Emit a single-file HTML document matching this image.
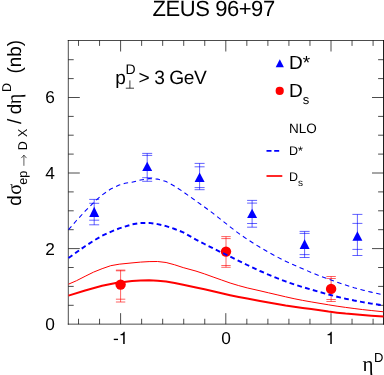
<!DOCTYPE html>
<html><head><meta charset="utf-8"><title>ZEUS 96+97</title>
<style>
html,body{margin:0;padding:0;background:#fff;overflow:hidden;}
svg{display:block;will-change:transform;}
text{font-family:"Liberation Sans",sans-serif;fill:#000;text-rendering:geometricPrecision;}
.sy{font-family:"Liberation Serif",serif;}
</style></head><body>
<svg width="384" height="375" viewBox="0 0 384 375">
<rect x="0" y="0" width="384" height="375" fill="#fff"/>
<g stroke="#000" stroke-opacity="0.70" stroke-width="1" fill="none">
<path d="M68.30 40.00 V324.65"/><path d="M383.50 40.00 V324.65" stroke-opacity="0.88"/><path d="M67.80 40.50 H384.00"/><path d="M67.80 324.15 H384.00"/>
<path d="M78.52 324.15 v-5.40"/><path d="M78.52 40.50 v5.40"/>
<path d="M99.56 324.15 v-5.40"/><path d="M99.56 40.50 v5.40"/>
<path d="M120.60 324.15 v-11.00"/><path d="M120.60 40.50 v11.00"/>
<path d="M141.64 324.15 v-5.40"/><path d="M141.64 40.50 v5.40"/>
<path d="M162.68 324.15 v-5.40"/><path d="M162.68 40.50 v5.40"/>
<path d="M183.72 324.15 v-5.40"/><path d="M183.72 40.50 v5.40"/>
<path d="M204.76 324.15 v-5.40"/><path d="M204.76 40.50 v5.40"/>
<path d="M225.80 324.15 v-11.00"/><path d="M225.80 40.50 v11.00"/>
<path d="M246.84 324.15 v-5.40"/><path d="M246.84 40.50 v5.40"/>
<path d="M267.88 324.15 v-5.40"/><path d="M267.88 40.50 v5.40"/>
<path d="M288.92 324.15 v-5.40"/><path d="M288.92 40.50 v5.40"/>
<path d="M309.96 324.15 v-5.40"/><path d="M309.96 40.50 v5.40"/>
<path d="M331.00 324.15 v-11.00"/><path d="M331.00 40.50 v11.00"/>
<path d="M352.04 324.15 v-5.40"/><path d="M352.04 40.50 v5.40"/>
<path d="M373.08 324.15 v-5.40"/><path d="M373.08 40.50 v5.40"/>
<path d="M68.3 305.3 h5.4"/><path d="M383.5 305.3 h-5.4"/>
<path d="M68.3 286.4 h5.4"/><path d="M383.5 286.4 h-5.4"/>
<path d="M68.3 267.5 h5.4"/><path d="M383.5 267.5 h-5.4"/>
<path d="M68.3 248.6 h11.5"/><path d="M383.5 248.6 h-11.5"/>
<path d="M68.3 229.7 h5.4"/><path d="M383.5 229.7 h-5.4"/>
<path d="M68.3 210.8 h5.4"/><path d="M383.5 210.8 h-5.4"/>
<path d="M68.3 191.9 h5.4"/><path d="M383.5 191.9 h-5.4"/>
<path d="M68.3 173.0 h11.5"/><path d="M383.5 173.0 h-11.5"/>
<path d="M68.3 154.1 h5.4"/><path d="M383.5 154.1 h-5.4"/>
<path d="M68.3 135.2 h5.4"/><path d="M383.5 135.2 h-5.4"/>
<path d="M68.3 116.4 h5.4"/><path d="M383.5 116.4 h-5.4"/>
<path d="M68.3 97.5 h11.5"/><path d="M383.5 97.5 h-11.5"/>
<path d="M68.3 78.6 h5.4"/><path d="M383.5 78.6 h-5.4"/>
<path d="M68.3 59.7 h5.4"/><path d="M383.5 59.7 h-5.4"/>
</g>
<g stroke="#0000ff" stroke-width="0.62" fill="none">
<path d="M94.2 199.4 V224.8 M89.2 199.4 h10.0 M89.2 203.3 h10.0 M89.2 220.2 h10.0 M89.2 224.8 h10.0"/>
<path d="M147.2 153.4 V181.3 M142.2 153.4 h10.0 M142.2 155.4 h10.0 M142.2 177.7 h10.0 M142.2 181.3 h10.0"/>
<path d="M199.6 163.4 V189.7 M194.6 163.4 h10.0 M194.6 166.8 h10.0 M194.6 187.6 h10.0 M194.6 189.7 h10.0"/>
<path d="M252.1 200.4 V227.2 M247.1 200.4 h10.0 M247.1 203.1 h10.0 M247.1 223.5 h10.0 M247.1 227.2 h10.0"/>
<path d="M304.6 231.4 V257.5 M299.6 231.4 h10.0 M299.6 233.4 h10.0 M299.6 254.6 h10.0 M299.6 257.5 h10.0"/>
<path d="M357.4 214.4 V255.5 M352.4 214.4 h10.0 M352.4 223.4 h10.0 M352.4 249.4 h10.0 M352.4 255.5 h10.0"/>
</g>
<g fill="#0000ff">
<polygon points="94.2,206.8 89.2,217.0 99.2,217.0"/>
<polygon points="147.2,161.7 142.2,171.1 152.2,171.1"/>
<polygon points="199.6,172.4 194.6,181.9 204.6,181.9"/>
<polygon points="252.1,208.8 247.1,217.9 257.1,217.9"/>
<polygon points="304.6,239.2 299.6,249.1 309.6,249.1"/>
<polygon points="357.4,231.2 352.4,240.8 362.4,240.8"/>
</g>
<g stroke="#ff0000" stroke-width="0.62" fill="none">
<path d="M120.6 270.1 V302.0 M115.9 270.1 h9.4 M115.9 270.8 h9.4 M115.9 299.2 h9.4 M115.9 302.0 h9.4"/>
<path d="M226.0 236.6 V267.3 M221.3 236.6 h9.4 M221.3 238.6 h9.4 M221.3 265.5 h9.4 M221.3 267.3 h9.4"/>
<path d="M331.1 276.5 V301.5 M326.4 276.5 h9.4 M326.4 278.5 h9.4 M326.4 299.5 h9.4 M326.4 301.5 h9.4"/>
</g>
<g fill="#ff0000">
<circle cx="120.6" cy="284.6" r="5.2"/>
<circle cx="226.0" cy="251.6" r="5.2"/>
<circle cx="331.1" cy="288.9" r="5.2"/>
</g>
<g fill="none" stroke-linejoin="round">
<polyline points="68.5,284.2 76.5,280.7 85.1,276.3 93.6,272.1 102.1,268.7 110.7,265.7 119.2,264.2 132.0,262.9 140.5,262.1 149.1,261.6 157.6,261.5 166.1,262.5 174.7,264.8 183.2,267.6 196.0,271.1 204.5,273.9 213.1,277.0 221.6,280.0 230.1,283.0 238.7,285.6 247.2,287.9 260.0,290.8 268.5,292.8 277.1,294.8 285.6,296.8 294.1,298.7 302.7,300.4 311.2,301.9 320.0,303.4 328.5,304.8 337.1,306.2 345.6,307.4 354.1,308.5 362.7,309.6 371.2,310.5 383.5,311.8" stroke="#ff0000" stroke-width="1"/>
<polyline points="68.5,295.6 85.1,290.5 102.1,285.8 115.8,282.9 132.0,281.0 140.5,280.5 149.1,280.2 157.6,280.7 166.1,281.6 174.7,283.0 183.2,284.7 196.0,287.4 204.5,289.3 213.1,291.3 221.6,293.3 230.1,295.2 238.7,297.0 247.2,298.6 260.0,300.9 268.5,302.4 277.1,303.9 285.6,305.4 294.1,306.7 302.7,307.9 311.2,309.0 320.0,310.3 328.5,311.6 337.1,312.7 345.6,313.6 354.1,314.3 362.7,315.0 371.2,315.7 383.5,316.5" stroke="#ff0000" stroke-width="2.0"/>
<polyline points="68.5,229.7 76.5,220.5 85.1,211.2 96.2,200.1 102.1,195.0 110.7,189.0 119.2,185.1 125.0,183.3 132.0,182.2 140.5,180.0 149.1,178.6 157.6,179.1 166.1,181.6 174.7,186.2 183.2,191.8 196.0,201.0 204.5,207.0 213.1,213.4 221.6,220.1 230.1,226.8 238.7,233.4 247.2,239.3 260.0,247.3 268.5,252.3 277.1,256.9 285.6,261.2 294.1,265.1 302.7,268.8 311.2,272.4 320.0,276.0 328.5,279.2 337.1,282.2 345.6,285.0 354.1,287.7 362.7,290.1 371.2,292.1 383.5,294.9" stroke="#0000ff" stroke-width="1.08" stroke-dasharray="4.5,3.6"/>
<polyline points="68.5,258.0 76.5,252.3 85.1,246.2 93.6,240.7 102.1,235.8 110.7,231.8 119.2,228.4 132.0,224.4 140.5,223.0 149.1,222.9 157.6,224.1 166.1,226.1 174.7,229.0 183.2,232.3 196.0,239.6 204.5,244.0 213.1,248.3 221.6,252.5 230.1,256.6 238.7,260.8 247.2,265.0 260.0,271.0 268.5,274.7 277.1,278.2 285.6,281.4 294.1,284.4 302.7,287.1 311.2,289.6 320.0,292.1 328.5,294.5 337.1,296.7 345.6,298.7 354.1,300.5 362.7,302.1 371.2,303.6 383.5,305.5" stroke="#0000ff" stroke-width="1.95" stroke-dasharray="4.8,3.3"/>
</g>
<polygon points="279.8,59.2 275.7,67.3 283.9,67.3" fill="#0000ff"/>
<circle cx="279.7" cy="90.9" r="4.1" fill="#ff0000"/>
<path d="M266.5 150.9 h12.7" stroke="#0000ff" stroke-width="1.7" stroke-dasharray="5,2.7" fill="none"/>
<path d="M266.5 176 H282.3" stroke="#ff0000" stroke-width="1.7" fill="none"/>
<text x="289" y="68.8" font-size="19">D*</text>
<text x="289" y="96.6" font-size="19">D<tspan font-size="13" dy="7">s</tspan></text>
<text x="289" y="133.3" font-size="13.5">NLO</text>
<text x="289" y="155.2" font-size="12.5">D*</text>
<text x="289" y="181.0" font-size="12.5">D<tspan font-size="10" dy="5">s</tspan></text>
<text x="152.6" y="16.3" font-size="22" letter-spacing="-0.45">ZEUS 96+97</text>
<text x="115.3" y="83.5" font-size="19">p</text>
<text x="125.5" y="73.6" font-size="14">D</text>
<path d="M129.9 80.4 V88.2 M125.8 88.2 H134.0" stroke="#000" stroke-width="0.9" fill="none" stroke-opacity="0.85"/>
<text x="138.6" y="83.5" font-size="19.2" letter-spacing="-0.45">&gt; 3 GeV</text>
<text x="54.8" y="330.1" font-size="17.3" text-anchor="end">0</text>
<text x="54.8" y="254.5" font-size="17.3" text-anchor="end">2</text>
<text x="54.8" y="179.0" font-size="17.3" text-anchor="end">4</text>
<text x="54.8" y="103.4" font-size="17.3" text-anchor="end">6</text>
<text x="221.2" y="344.0" font-size="17.3">0</text>
<text x="113" y="344.0" font-size="17.3">-</text>
<path d="M123.18 344.00 V335.26 H120.46 V334.17 C122.19 333.95 122.97 333.60 123.72 331.73 H124.70 V344.00 Z" fill="#000"/>
<path d="M330.28 344.00 V335.26 H327.56 V334.17 C329.29 333.95 330.07 333.60 330.82 331.73 H331.80 V344.00 Z" fill="#000"/>
<text class="sy" x="362.5" y="370.5" font-size="21">&#951;</text>
<text x="374" y="361.7" font-size="13">D</text>
<g transform="translate(21.0,205.3) rotate(-90) scale(0.975,1)">
<text x="-0.51" y="0.00" font-size="19.3">d</text>
<text class="sy" x="10.87" y="0.00" font-size="20.8">&#963;</text>
<text x="21.13" y="6.00" font-size="12.8">ep</text>
<path d="M40.51 2.90 H51.28 M48.41 0.30 L51.49 2.90 L48.41 5.50" stroke="#000" stroke-width="0.8" fill="none" stroke-opacity="0.8"/>
<text x="56.51" y="6.00" font-size="12.8">D</text>
<text x="70.15" y="6.00" font-size="12.8">X</text>
<text x="83.28" y="0.00" font-size="19.3">/</text>
<text x="93.33" y="0.00" font-size="19.3">d</text>
<text class="sy" x="103.59" y="0.00" font-size="20.8">&#951;</text>
<text x="116.10" y="-9.60" font-size="12.8">D</text>
<text x="135.18" y="0.00" font-size="19.3">(nb)</text>
</g>
</svg>
</body></html>
